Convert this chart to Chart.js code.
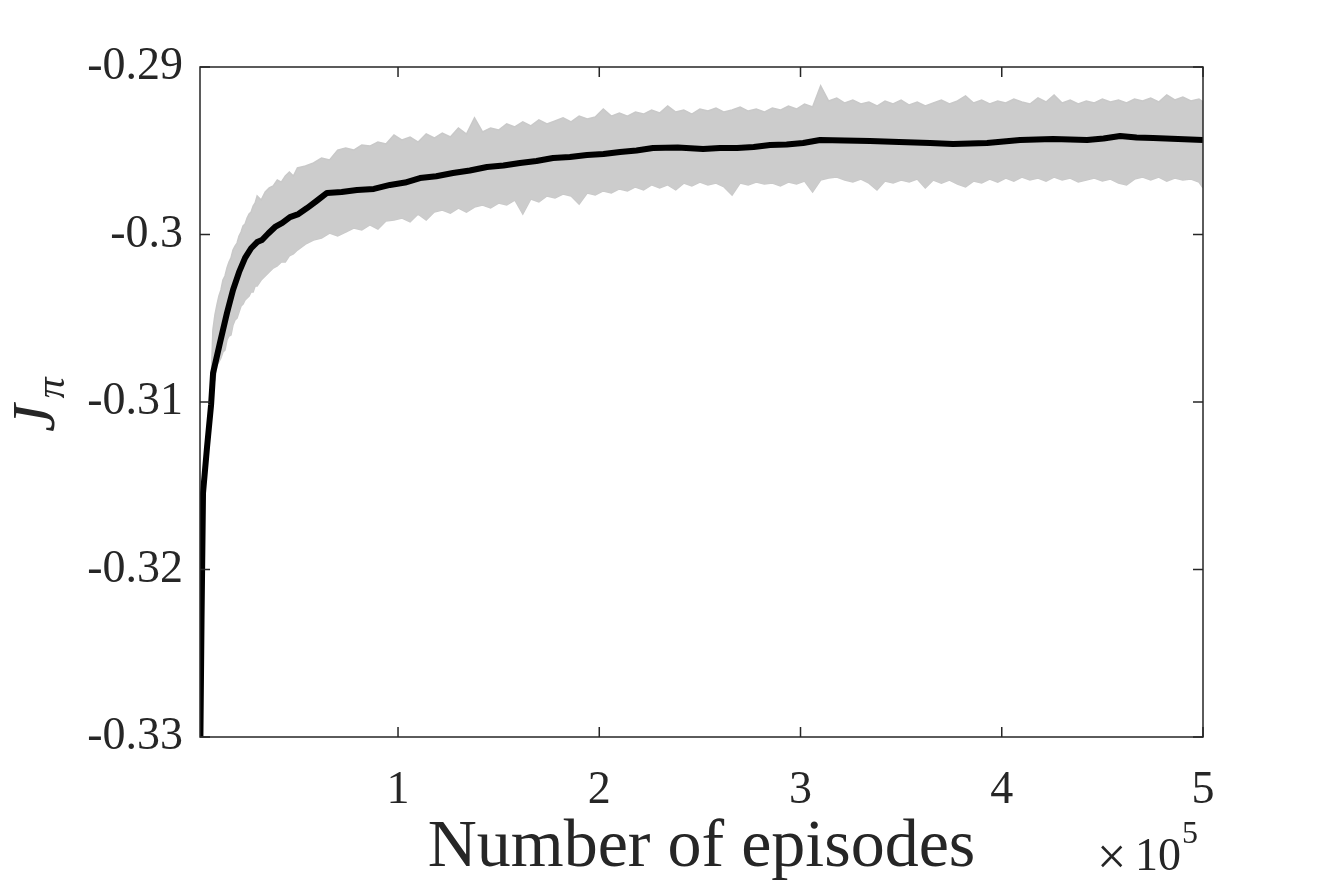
<!DOCTYPE html>
<html>
<head>
<meta charset="utf-8">
<script src="https://cdn.jsdelivr.net/npm/chart.js@4.4.1/dist/chart.umd.min.js"></script>
<style>
  html, body { margin: 0; padding: 0; background: #fff; }
  #chart { display: block; }
</style>
</head>
<body>
<canvas id="chart" width="1329" height="887"></canvas>
<script>
// mean return curve (episodes, J_pi)
const meanEpisodes = [1800, 2360, 3100, 5100, 7100, 8100, 11500, 15000, 18000, 21000, 24000, 27000, 30000, 32400, 35500, 38900, 42500, 46300, 50500, 54800, 59500, 64700, 72000, 79600, 88000, 96000, 103500, 110900, 119000, 127300, 135700, 144200, 152400, 160600, 168800, 177000, 185400, 193900, 202100, 210300, 218500, 226700, 239000, 251600, 260000, 268500, 276700, 284900, 293100, 301300, 309700, 322000, 334500, 349000, 364400, 375800, 384300, 392700, 400900, 409100, 417300, 425500, 434000, 442400, 450600, 458800, 467000, 475200, 487600, 500000];
const meanValues = [-0.3300, -0.32302, -0.31543, -0.31269, -0.31018, -0.30827, -0.30648, -0.30469, -0.30331, -0.30225, -0.30140, -0.30082, -0.30045, -0.30033, -0.29994, -0.29955, -0.29931, -0.29896, -0.29878, -0.29842, -0.29800, -0.29752, -0.29746, -0.29734, -0.29728, -0.29704, -0.29690, -0.29663, -0.29652, -0.29633, -0.29618, -0.29597, -0.29588, -0.29573, -0.29561, -0.29543, -0.29537, -0.29525, -0.29519, -0.29507, -0.29498, -0.29484, -0.29481, -0.29490, -0.29484, -0.29484, -0.29478, -0.29466, -0.29463, -0.29454, -0.29436, -0.29439, -0.29442, -0.29448, -0.29454, -0.29460, -0.29457, -0.29454, -0.29445, -0.29436, -0.29433, -0.29430, -0.29433, -0.29436, -0.29427, -0.29412, -0.29421, -0.29424, -0.29430, -0.29436];

// raw (noisy) returns, read as upper / lower edge of the grey band
const bandEpisodes = [7000, 8000, 9000, 10000, 11000, 12000, 13000, 14000, 15000, 16000, 17000, 18000, 19000, 20000, 21000, 22000, 23000, 24000, 25000, 26000, 27000, 28000, 29000, 30000, 32000, 34000, 36000, 38000, 40000, 42000, 44000, 46000, 48000, 50000,
  54000, 58000, 62000, 66000, 70000, 74000, 78000, 82000, 86000, 90000, 94000, 98000, 102000, 106000, 110000, 114000, 118000, 122000, 126000, 130000, 134000, 138000, 142000, 146000, 150000, 154000, 158000, 162000, 166000, 170000, 174000, 178000, 182000, 186000, 190000, 194000, 198000,
  202000, 206000, 210000, 214000, 218000, 222000, 226000, 230000, 234000, 238000, 242000, 246000, 250000, 254000, 258000, 262000, 266000, 270000, 274000, 278000, 282000, 286000, 290000, 294000, 298000,
  302000, 306000, 310000, 314000, 318000, 322000, 326000, 330000, 334000, 338000, 342000, 346000, 350000, 354000, 358000, 362000, 366000, 370000, 374000, 378000, 382000, 386000, 390000, 394000, 398000,
  402000, 406000, 410000, 414000, 418000, 422000, 426000, 430000, 434000, 438000, 442000, 446000, 450000, 454000, 458000, 462000, 466000, 470000, 474000, 478000, 482000, 486000, 490000, 494000, 498000, 500000];
const bandUpper = [-0.30928, -0.30570, -0.30481, -0.30421, -0.30367, -0.30331, -0.30272, -0.30248, -0.30200, -0.30164, -0.30140, -0.30093, -0.30069, -0.30051, -0.30009, -0.29985, -0.29949, -0.29937, -0.29902, -0.29878, -0.29866, -0.29830, -0.29812, -0.29770, -0.29794, -0.29746, -0.29722, -0.29710, -0.29675, -0.29687, -0.29651, -0.29627, -0.29651, -0.29603,
  -0.29591, -0.29573, -0.29543, -0.29555, -0.29496, -0.29484, -0.29496, -0.29466, -0.29472, -0.29448, -0.29460, -0.29406, -0.29436, -0.29418, -0.29448, -0.29400, -0.29424, -0.29394, -0.29418, -0.29364, -0.29400, -0.29304, -0.29388, -0.29364, -0.29376, -0.29340, -0.29358, -0.29328, -0.29352, -0.29316, -0.29340, -0.29322, -0.29304, -0.29328, -0.29293, -0.29310, -0.29299,
  -0.29251, -0.29293, -0.29275, -0.29293, -0.29269, -0.29281, -0.29257, -0.29275, -0.29233, -0.29269, -0.29257, -0.29281, -0.29251, -0.29263, -0.29245, -0.29269, -0.29257, -0.29239, -0.29263, -0.29251, -0.29269, -0.29245, -0.29257, -0.29233, -0.29251,
  -0.29221, -0.29239, -0.29113, -0.29203, -0.29185, -0.29215, -0.29197, -0.29221, -0.29209, -0.29233, -0.29203, -0.29221, -0.29197, -0.29227, -0.29209, -0.29233, -0.29215, -0.29197, -0.29221, -0.29203, -0.29173, -0.29215, -0.29197, -0.29221, -0.29203,
  -0.29215, -0.29191, -0.29209, -0.29221, -0.29185, -0.29209, -0.29167, -0.29215, -0.29197, -0.29221, -0.29203, -0.29215, -0.29191, -0.29209, -0.29197, -0.29215, -0.29191, -0.29203, -0.29185, -0.29209, -0.29167, -0.29197, -0.29179, -0.29203, -0.29191, -0.29209];
const bandLower = [-0.31096, -0.30899, -0.30869, -0.30779, -0.30761, -0.30737, -0.30701, -0.30690, -0.30630, -0.30606, -0.30600, -0.30540, -0.30510, -0.30499, -0.30463, -0.30427, -0.30415, -0.30391, -0.30379, -0.30367, -0.30343, -0.30343, -0.30307, -0.30307, -0.30272, -0.30248, -0.30224, -0.30200, -0.30188, -0.30164, -0.30164, -0.30128, -0.30116, -0.30093,
  -0.30057, -0.30033, -0.30021, -0.29991, -0.30009, -0.29985, -0.29961, -0.29973, -0.29943, -0.29967, -0.29919, -0.29913, -0.29902, -0.29925, -0.29878, -0.29913, -0.29866, -0.29854, -0.29872, -0.29842, -0.29866, -0.29836, -0.29824, -0.29842, -0.29812, -0.29824, -0.29794, -0.29878, -0.29788, -0.29806, -0.29770, -0.29782, -0.29758, -0.29770, -0.29818, -0.29752, -0.29764,
  -0.29740, -0.29752, -0.29728, -0.29740, -0.29716, -0.29734, -0.29704, -0.29722, -0.29704, -0.29734, -0.29693, -0.29710, -0.29687, -0.29704, -0.29693, -0.29716, -0.29764, -0.29693, -0.29704, -0.29687, -0.29699, -0.29693, -0.29710, -0.29687, -0.29699,
  -0.29681, -0.29746, -0.29675, -0.29663, -0.29657, -0.29675, -0.29687, -0.29669, -0.29693, -0.29734, -0.29681, -0.29693, -0.29675, -0.29687, -0.29669, -0.29722, -0.29675, -0.29693, -0.29675, -0.29699, -0.29716, -0.29681, -0.29693, -0.29669, -0.29687,
  -0.29663, -0.29681, -0.29657, -0.29675, -0.29663, -0.29681, -0.29657, -0.29675, -0.29663, -0.29687, -0.29675, -0.29663, -0.29681, -0.29669, -0.29693, -0.29704, -0.29669, -0.29657, -0.29675, -0.29657, -0.29681, -0.29663, -0.29675, -0.29669, -0.29687, -0.29722];

const xTicks = [100000, 200000, 300000, 400000, 500000];
const yTicks = [-0.33, -0.32, -0.31, -0.3, -0.29];

const TEXT = "#262626";
const SERIF = '"Liberation Serif", "DejaVu Serif", serif';

function toPoints(xs, ys) {
  return xs.map((x, i) => ({ x, y: ys[i] }));
}

// frame, inward ticks and the axis labels, MATLAB style
const framePlugin = {
  id: "frame",
  afterDraw(chart) {
    const { ctx, chartArea: a, scales } = chart;
    const tick = 10;
    ctx.save();
    ctx.strokeStyle = TEXT;
    ctx.lineWidth = 1.5;
    ctx.strokeRect(a.left, a.top, a.right - a.left, a.bottom - a.top);
    ctx.beginPath();
    xTicks.forEach((v) => {
      const px = scales.x.getPixelForValue(v);
      ctx.moveTo(px, a.bottom);
      ctx.lineTo(px, a.bottom - tick);
      ctx.moveTo(px, a.top);
      ctx.lineTo(px, a.top + tick);
    });
    yTicks.forEach((v) => {
      const py = scales.y.getPixelForValue(v);
      ctx.moveTo(a.left, py);
      ctx.lineTo(a.left + tick, py);
      ctx.moveTo(a.right, py);
      ctx.lineTo(a.right - tick, py);
    });
    ctx.stroke();

    ctx.fillStyle = TEXT;
    ctx.textBaseline = "alphabetic";

    // x label
    ctx.font = `68px ${SERIF}`;
    ctx.textAlign = "center";
    ctx.fillText("Number of episodes", (a.left + a.right) / 2, 866);

    // exponent
    ctx.textAlign = "left";
    ctx.font = `52px ${SERIF}`;
    ctx.fillText("\u00d7", 1097, 874);
    ctx.font = `46px ${SERIF}`;
    ctx.fillText("10", 1135, 870);
    ctx.font = `32px ${SERIF}`;
    ctx.fillText("5", 1182, 843);

    // y label J_pi
    ctx.translate(54, 432);
    ctx.rotate(-Math.PI / 2);
    ctx.font = `italic 62px ${SERIF}`;
    ctx.fillText("J", 0, 0);
    const w = ctx.measureText("J").width;
    ctx.font = `italic 42px ${SERIF}`;
    ctx.fillText("\u03c0", w + 6, 10);
    ctx.restore();
  },
};

const ctx = document.getElementById("chart").getContext("2d");
new Chart(ctx, {
  type: "line",
  data: {
    datasets: [
      {
        label: "mean",
        data: toPoints(meanEpisodes, meanValues),
        borderColor: "#000000",
        borderWidth: 6,
        borderJoinStyle: "round",
        pointRadius: 0,
        fill: false,
        tension: 0,
      },
      {
        label: "upper",
        data: toPoints(bandEpisodes, bandUpper),
        borderColor: "#c9c9c9",
        borderWidth: 1.5,
        backgroundColor: "#cccccc",
        pointRadius: 0,
        fill: "+1",
        tension: 0,
      },
      {
        label: "lower",
        data: toPoints(bandEpisodes, bandLower),
        borderColor: "#c9c9c9",
        borderWidth: 1.5,
        pointRadius: 0,
        fill: false,
        tension: 0,
      },
    ],
  },
  options: {
    responsive: false,
    animation: false,
    devicePixelRatio: 1,
    layout: { padding: { left: 0, right: 126, top: 67, bottom: 0 } },
    plugins: {
      legend: { display: false },
      tooltip: { enabled: false },
    },
    scales: {
      x: {
        type: "linear",
        min: 1600,
        max: 500000,
        afterFit(scale) { scale.height = 150; },
        afterBuildTicks(scale) { scale.ticks = xTicks.map((value) => ({ value })); },
        grid: { display: false, drawTicks: false },
        border: { display: false },
        ticks: {
          color: TEXT,
          padding: 26,
          maxRotation: 0,
          autoSkip: false,
          font: { family: SERIF, size: 46 },
          callback: (v) => String(v / 100000),
        },
      },
      y: {
        type: "linear",
        min: -0.33,
        max: -0.29,
        afterFit(scale) { scale.width = 200; },
        afterBuildTicks(scale) { scale.ticks = yTicks.map((value) => ({ value })); },
        grid: { display: false, drawTicks: false },
        border: { display: false },
        ticks: {
          color: TEXT,
          padding: 17,
          autoSkip: false,
          font: { family: SERIF, size: 46 },
          callback: (v) => String(Math.round(v * 100) / 100),
        },
      },
    },
  },
  plugins: [framePlugin],
});
</script>
</body>
</html>
